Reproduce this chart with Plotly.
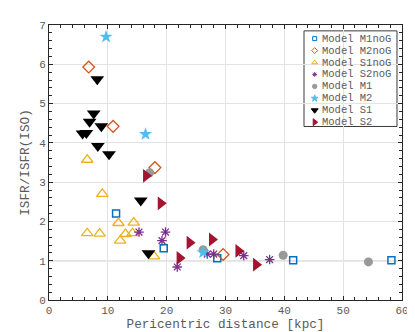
import plotly.graph_objects as go

# ---- data ----
m1nog_x = [11.4, 19.5, 28.6, 41.5, 58.2]
m1nog_y = [2.20, 1.32, 1.06, 1.01, 1.01]

m2nog_x = [6.75, 10.9, 18.0, 29.6]
m2nog_y = [5.93, 4.42, 3.37, 1.16]

s1nog_x = [6.5, 9.06, 11.8, 14.4, 6.5, 8.6, 13.0, 14.2, 12.1, 17.85]
s1nog_y = [3.57, 2.70, 1.96, 1.97, 1.70, 1.69, 1.68, 1.70, 1.51, 1.11]

s2nog_x = [15.3, 19.8, 19.2, 21.8, 26.9, 28.0, 33.1, 37.5]
s2nog_y = [1.73, 1.73, 1.51, 0.84, 1.17, 1.17, 1.13, 1.03]

m1_x = [17.1, 26.2, 39.8, 54.3]
m1_y = [3.24, 1.28, 1.14, 0.97]

m2_x = [9.7, 16.4, 26.2]
m2_y = [6.70, 4.22, 1.21]

s1_x = [8.2, 7.6, 6.9, 8.9, 5.7, 6.35, 8.3, 10.2, 15.6, 16.9]
s1_y = [5.62, 4.75, 4.54, 4.42, 4.24, 4.25, 3.92, 3.71, 2.53, 1.19]

s2_x = [16.5, 19.0, 23.9, 22.2, 27.7, 32.2, 35.2]
s2_y = [3.16, 2.46, 1.46, 1.07, 1.54, 1.25, 0.90]

series_names = ["Model M1noG", "Model M2noG", "Model S1noG", "Model S2noG",
                "Model M1", "Model M2", "Model S1", "Model S2"]
ref_level = 1.0

x_ticks = [0, 10, 20, 30, 40, 50, 60]
y_ticks = [0, 1, 2, 3, 4, 5, 6, 7]

# ---- styles ----
styles = [
    dict(symbol="square-open", color="#0072BD", size=7, lw=1.5),
    dict(symbol="diamond-open", color="#D95319", size=9, lw=1.3),
    dict(symbol="triangle-up-open", color="#EDB120", size=10, lw=1.3),
    dict(symbol="asterisk-open", color="#7E2F8E", size=8, lw=1.3),
    dict(symbol="circle", color="#999999", size=9, lw=0),
    dict(symbol="star", color="#4DBEEE", size=10, lw=0),
    dict(symbol="triangle-down", color="#000000", size=12, lw=0),
    dict(symbol="triangle-right", color="#A2142F", size=12, lw=0),
]
data_xy = [(m1nog_x, m1nog_y), (m2nog_x, m2nog_y), (s1nog_x, s1nog_y),
           (s2nog_x, s2nog_y), (m1_x, m1_y), (m2_x, m2_y), (s1_x, s1_y), (s2_x, s2_y)]

FONT = "Liberation Mono, Courier New, monospace"
TXT = "#5a5a5a"
AX = "#262626"

fig = go.Figure()

for (xs, ys), st, name in zip(data_xy, styles, series_names):
    fig.add_trace(go.Scatter(
        x=xs, y=ys, mode="markers", name=name, showlegend=False,
        marker=dict(symbol=st["symbol"], color=st["color"], size=st["size"],
                    line=dict(color=st["color"], width=st["lw"])),
    ))

# ---- custom compact legend (paper coordinates on an overlay axis) ----
lg_x0, lg_x1, lg_y1, lg_y0 = 0.7224, 0.9858, 0.9787, 0.631
item_top = 0.9504
item_step = 0.0434
mk_x = 0.7527
tx_x = 0.7715
leg_y = [item_top - i * item_step for i in range(len(series_names))]
for i, (st, name) in enumerate(zip(styles, series_names)):
    fig.add_trace(go.Scatter(
        x=[mk_x], y=[leg_y[i]], xaxis="x2", yaxis="y2", mode="markers",
        showlegend=False, hoverinfo="skip",
        marker=dict(symbol=st["symbol"], color=st["color"], size=max(4, st["size"] * 0.5),
                    line=dict(color=st["color"], width=1)),
    ))
    fig.add_annotation(x=tx_x, y=leg_y[i], xref="x2", yref="y2", text=name,
                       showarrow=False, xanchor="left", yanchor="middle", borderpad=0,
                       font=dict(family=FONT, size=10.5, color=TXT))

fig.add_shape(type="rect", xref="x2", yref="y2", x0=lg_x0, x1=lg_x1, y0=lg_y0, y1=lg_y1,
              line=dict(color="#3a3a3a", width=1), fillcolor="white", layer="below")

# reference line at y = 1
fig.add_shape(type="line", xref="paper", yref="y", x0=0, x1=1, y0=ref_level, y1=ref_level,
              line=dict(color="#a6a6a6", width=1.2), layer="below")

axis_common = dict(
    showline=True, linecolor=AX, linewidth=1, mirror="allticks",
    ticks="inside", ticklen=4, tickcolor=AX, tickwidth=1,
    showgrid=True, gridcolor="#e3e3e3", gridwidth=1, zeroline=False,
    tickfont=dict(family=FONT, size=11, color=TXT),
)

fig.update_layout(
    width=415, height=332,
    margin=dict(l=41, r=21, t=16, b=34),
    paper_bgcolor="white", plot_bgcolor="white",
    xaxis=dict(range=[0, 60], tickvals=x_ticks,
               minor=dict(dtick=2, ticks="inside", ticklen=3, tickcolor=AX, showgrid=False),
               title=dict(text="Pericentric distance [kpc]", standoff=2,
                          font=dict(family=FONT, size=12.7, color=TXT)),
               **axis_common),
    yaxis=dict(range=[0, 7], tickvals=y_ticks,
               minor=dict(dtick=0.2, ticks="inside", ticklen=3, tickcolor=AX, showgrid=False),
               title=dict(text="ISFR/ISFR(ISO)", standoff=6,
                          font=dict(family=FONT, size=12.7, color=TXT)),
               **axis_common),
    xaxis2=dict(range=[0, 1], overlaying="x", visible=False, fixedrange=True),
    yaxis2=dict(range=[0, 1], overlaying="y", visible=False, fixedrange=True),
    showlegend=False,
)

fig.write_html("out.html")
